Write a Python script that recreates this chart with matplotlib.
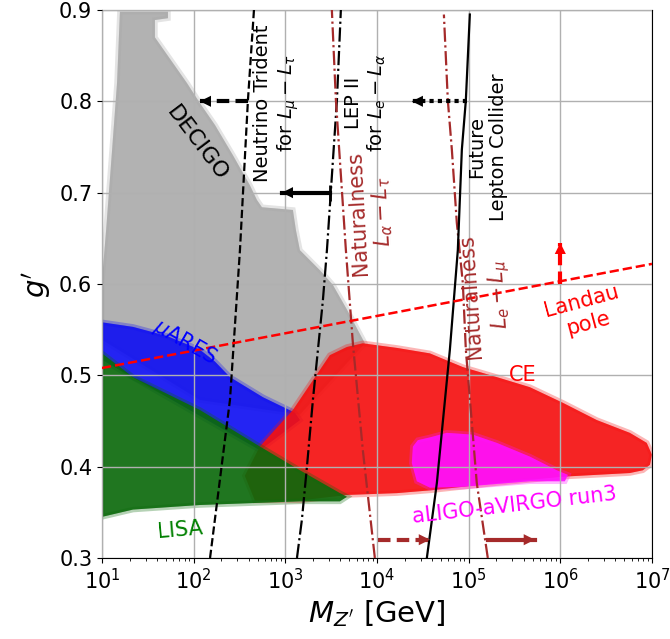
import matplotlib.pyplot as plt

# sensitivity regions, M_Z' [GeV] vs g'
decigo_m = [15.7, 52.5, 52.5, 37.8, 37.8, 84.5, 117, 171, 268, 411, 490, 556, 1210, 1305,
            1443, 2385, 3300, 4700, 7380, 1443, 117, 10, 10, 11.1, 12.9, 14.6]
decigo_g = [0.898, 0.898, 0.891, 0.889, 0.870, 0.820, 0.798, 0.774, 0.741, 0.708, 0.692, 0.684,
            0.681, 0.659, 0.637, 0.615, 0.599, 0.572, 0.535, 0.457, 0.473, 0.539, 0.604,
            0.659, 0.747, 0.820]

mares_m = [10, 21.8, 51.2, 117, 171, 249, 570, 1273, 1443, 528, 10]
mares_g = [0.558, 0.553, 0.543, 0.528, 0.515, 0.498, 0.476, 0.459, 0.451, 0.418, 0.517]

lisa_m = [10, 21.8, 117, 528, 1443, 3936, 4700, 3936, 1443, 117, 21.8, 10]
lisa_g = [0.524, 0.498, 0.462, 0.422, 0.396, 0.371, 0.367, 0.362, 0.362, 0.358, 0.353, 0.345]

ce_m = [362, 528, 1210, 3062, 4700, 7010, 16480, 37770, 86400, 2.03e5, 4.65e5, 1.06e6, 2.5e6,
        5.73e6, 8.77e6, 1e7, 9.5e6, 7.94e6, 5.73e6, 1.06e6, 2.03e5, 37770, 16480, 4700, 1443, 466]
ce_g = [0.390, 0.422, 0.462, 0.522, 0.531, 0.535, 0.530, 0.524, 0.509, 0.498, 0.487, 0.470,
        0.451, 0.437, 0.426, 0.413, 0.402, 0.396, 0.393, 0.389, 0.382, 0.374, 0.371, 0.369,
        0.363, 0.363]

ligo_m = [24660, 27940, 37770, 57800, 111200, 203000, 465000, 916000, 1.208e6, 1.12e6,
          465000, 86400, 37770, 27230, 24000]
ligo_g = [0.422, 0.429, 0.432, 0.437, 0.435, 0.426, 0.411, 0.396, 0.391, 0.384, 0.384,
          0.378, 0.377, 0.384, 0.404]

# constraint lines
trident_m = [151, 249, 320, 391, 455]
trident_g = [0.30, 0.473, 0.637, 0.801, 0.90]

lep_m = [1340, 1517, 1722, 2000, 2570, 2845, 3656, 4036]
lep_g = [0.30, 0.342, 0.40, 0.473, 0.582, 0.637, 0.801, 0.90]

nat_at_m = [9480, 7010, 5460, 4580, 3936, 3565, 3220]
nat_at_g = [0.30, 0.418, 0.535, 0.637, 0.736, 0.801, 0.90]

nat_em_m = [161800, 122700, 93200, 86400, 74300, 65600, 59300, 53700]
nat_em_g = [0.30, 0.382, 0.528, 0.601, 0.667, 0.747, 0.801, 0.895]

flc_m = [35000, 45000, 62400, 76200, 84300, 93200, 103000]
flc_g = [0.30, 0.382, 0.528, 0.637, 0.747, 0.801, 0.895]

landau_m = [10, 1e7]
landau_g = [0.508, 0.622]

# arrows: (tail, tip)
trident_arrow = ([391, 117], [0.80, 0.80])
lep_arrow = ([3062, 918], [0.70, 0.70])
flc_arrow = ([95500, 24000], [0.80, 0.80])
nat_at_arrow = ([10230, 37770], [0.32, 0.32])
nat_em_arrow = ([161800, 527000], [0.32, 0.32])
landau_arrow = ([1e6, 1e6], [0.60, 0.645])

brown = '#a52a2a'

fig = plt.figure(figsize=(6.7, 6.39), dpi=100)
ax = fig.add_axes([0.1522, 0.1268, 0.8209, 0.8576])
ax.set_xscale('log')

def region(m, g, c, a=0.88):
    ax.fill(m, g, facecolor=c, edgecolor=c, lw=4, alpha=0.3, zorder=1)
    ax.fill(m, g, facecolor=c, edgecolor='none', alpha=a, zorder=1)

region(decigo_m, decigo_g, '#a6a6a6', 0.8)
region(mares_m, mares_g, '#1010f2')
region(ce_m, ce_g, '#f51010')
region(lisa_m, lisa_g, '#0b6a0b')
region(ligo_m, ligo_g, '#ff10ff')

ax.plot(trident_m, trident_g, 'k--', lw=1.6, zorder=3)
ax.plot(lep_m, lep_g, 'k-.', lw=1.6, zorder=3)
ax.plot(nat_at_m, nat_at_g, '-.', color=brown, lw=1.6, zorder=3)
ax.plot(nat_em_m, nat_em_g, '-.', color=brown, lw=1.6, zorder=3)
ax.plot(flc_m, flc_g, 'k-', lw=1.6, zorder=3)
ax.plot(landau_m, landau_g, '--', color='red', lw=1.8, zorder=3)

def arrow(a, c, ls):
    (x0, x1), (y0, y1) = a
    ax.plot([x0, x1], [y0, y1], ls=ls, color=c, lw=3, zorder=3)
    ax.annotate('', xy=(x1, y1), xytext=(x0, y0),
                arrowprops=dict(arrowstyle='-|>', color=c, lw=0, mutation_scale=20,
                                shrinkA=0, shrinkB=0), zorder=3)

arrow(trident_arrow, 'k', (0, (3, 1.5)))
arrow(lep_arrow, 'k', '-')
ax.plot(lep_arrow[0][0], lep_arrow[1][0], marker='|', ms=12, mew=2, color='k', zorder=3)
arrow(flc_arrow, 'k', (0, (1, 1)))
arrow(nat_at_arrow, brown, (0, (3, 1.5)))
arrow(nat_em_arrow, brown, '-')
arrow(landau_arrow, 'red', (0, (3, 1.5)))

# labels
ax.text(109, 0.754, 'DECIGO', fontsize=16, rotation=-53, ha='center', va='center', zorder=4)
ax.text(809, 0.798, 'Neutrino Trident\nfor $L_\\mu - L_\\tau$', fontsize=14, rotation=90,
        ha='center', va='center', multialignment='center', zorder=4)
ax.text(7570, 0.798, 'LEP II\nfor $L_e - L_\\alpha$', fontsize=14, rotation=90,
        ha='center', va='center', multialignment='center', zorder=4)
ax.text(8570, 0.678, 'Naturalness\n$L_\\alpha - L_\\tau$', fontsize=15, rotation=93,
        color=brown, ha='center', va='center', multialignment='center', zorder=4)
ax.text(160000, 0.588, 'Naturalness\n$L_e - L_\\mu$', fontsize=15, rotation=94,
        color=brown, ha='center', va='center', multialignment='center',
        linespacing=1.35, zorder=4)
ax.text(162000, 0.75, 'Future\nLepton Collider', fontsize=14, rotation=90,
        ha='center', va='center', multialignment='center', zorder=4)
ax.text(80, 0.536, '$\\mu$ARES', fontsize=15, rotation=-30, color='blue',
        ha='center', va='center', zorder=4)
ax.text(71, 0.331, 'LISA', fontsize=15, rotation=5, color='green',
        ha='center', va='center', zorder=4)
ax.text(390000, 0.50, 'CE', fontsize=15, color='red', ha='center', va='center', zorder=4)
ax.text(319000, 0.358, 'aLIGO-aVIRGO run3', fontsize=15, rotation=6.5, color='magenta',
        ha='center', va='center', zorder=4)
ax.text(1.85e6, 0.569, 'Landau\npole', fontsize=15, rotation=15, color='red',
        ha='center', va='center', multialignment='center', zorder=4)

ax.set_xlim(10, 1e7)
ax.set_ylim(0.3, 0.9)
ax.set_yticks([0.3, 0.4, 0.5, 0.6, 0.7, 0.8, 0.9])
ax.grid(True, which='major', color='#b0b0b0', lw=1)
ax.set_axisbelow(False)
ax.tick_params(labelsize=15)
ax.set_xlabel("$M_{Z'}$ [GeV]", fontsize=21)
ax.set_ylabel("$g'$", fontsize=21)

fig.savefig('out.png', dpi=100)
